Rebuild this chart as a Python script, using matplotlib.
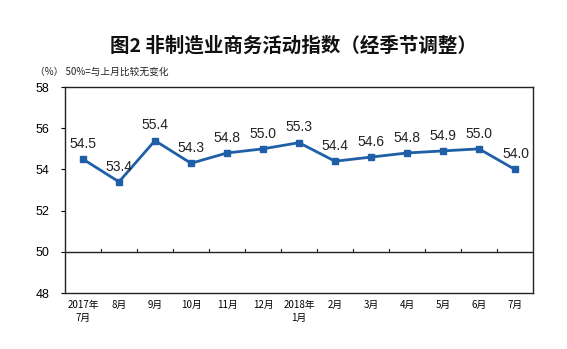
import matplotlib
matplotlib.use("Agg")
import matplotlib.pyplot as plt

plt.rcParams["font.family"] = ["Noto Sans CJK SC", "DejaVu Sans"]

months = ["2017年\n7月", "8月", "9月", "10月", "11月", "12月", "2018年\n1月",
          "2月", "3月", "4月", "5月", "6月", "7月"]
values = [54.5, 53.4, 55.4, 54.3, 54.8, 55.0, 55.3, 54.4, 54.6, 54.8, 54.9, 55.0, 54.0]
yticks = [48, 50, 52, 54, 56, 58]

fig = plt.figure(figsize=(5.67, 3.49), dpi=100)
ax = fig.add_axes([0.1146, 0.160, 0.8254, 0.5907])

x = list(range(len(values)))
ax.plot(x, values, color="#1f5fa8", lw=2, marker="s", ms=4.5, zorder=3)
for xi, v in zip(x, values):
    dx = 1 if xi == len(values) - 1 else 0
    ax.annotate(f"{v:.1f}", (xi, v), xytext=(dx, 6), textcoords="offset points",
                ha="center", va="bottom", fontsize=10, color="#222222",
                family="Liberation Sans")

# 50% reference line with category boundary ticks
ax.axhline(50, color="#222222", lw=1)
for b in range(len(values) - 1):
    ax.plot([b + 0.5, b + 0.5], [50, 50.12], color="#222222", lw=0.8)

ax.set_xlim(-0.5, len(values) - 0.5)
ax.set_ylim(48, 58)
ax.set_yticks(yticks)
ax.set_yticklabels([str(t) for t in yticks], family="Liberation Sans", fontsize=9)
ax.set_xticks(x)
ax.set_xticklabels(months, fontsize=7, linespacing=1.4)
ax.tick_params(axis="x", length=0, pad=5)
ax.tick_params(axis="y", length=3, width=0.8, pad=8)
for s in ax.spines.values():
    s.set_color("#222222")
    s.set_linewidth(1)

fig.text(0.517, 0.87, "图2 非制造业商务活动指数（经季节调整）", ha="center", va="center",
         fontsize=14, fontweight="bold", color="#111111")
fig.text(0.062, 0.793, "（%） 50%=与上月比较无变化", ha="left", va="center",
         fontsize=7, color="#222222")

fig.savefig("out.png", dpi=100)
